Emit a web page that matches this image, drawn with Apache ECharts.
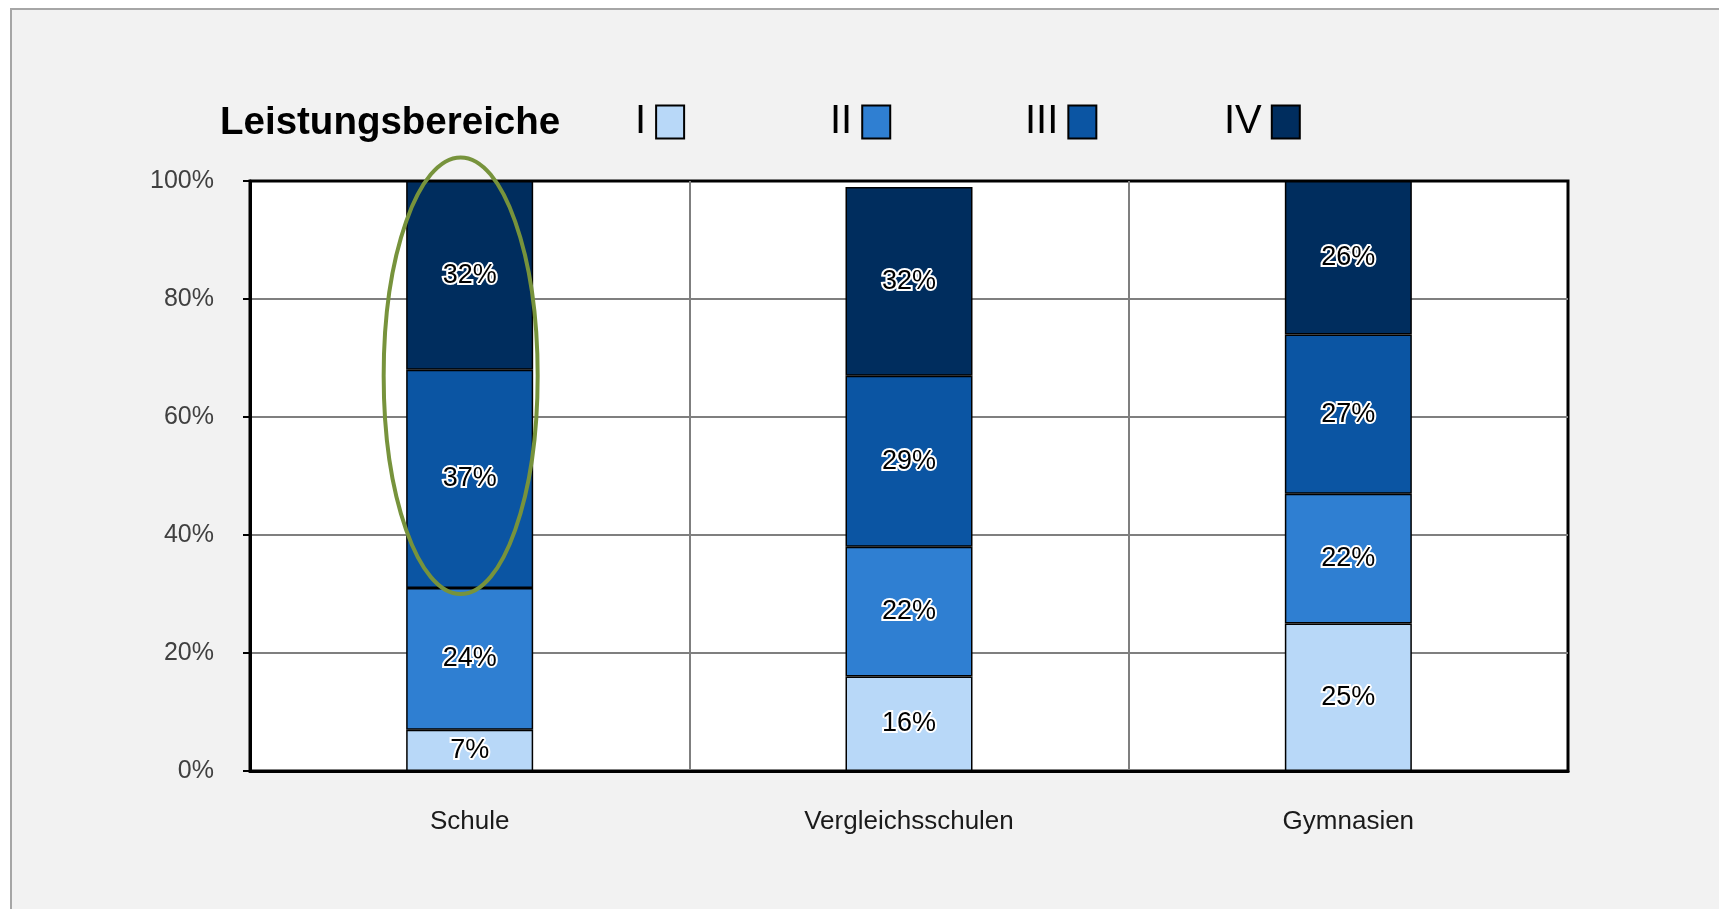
<!DOCTYPE html>
<html>
<head>
<meta charset="utf-8">
<script src="https://cdn.jsdelivr.net/npm/echarts@6/dist/echarts.min.js"></script>
<style>
html, body { margin: 0; padding: 0; background: #ffffff; }
#frame {
    position: absolute;
    left: 10px;
    top: 8px;
    width: 1720px;
    height: 920px;
    border-left: 2px solid #a6a6a6;
    border-top: 2px solid #a6a6a6;
    background: #f2f2f2;
}
#chart {
    position: absolute;
    left: 0;
    top: 0;
    width: 1719px;
    height: 909px;
}
</style>
</head>
<body>
<div id="frame"></div>
<div id="chart"></div>
<script>
// Leistungsbereiche I - IV, Anteile in Prozent
var categories = ['Schule', 'Vergleichsschulen', 'Gymnasien'];
var levelNames = ['I', 'II', 'III', 'IV'];
var levelI   = [7, 16, 25];
var levelII  = [24, 22, 22];
var levelIII = [37, 29, 27];
var levelIV  = [32, 32, 26];
var levelColors = ['#b8d8f8', '#2f7fd2', '#0b55a3', '#002d5e'];
var yTicks = [0, 20, 40, 60, 80, 100];

var font = '"Liberation Sans", Arial, sans-serif';

var levelData = [levelI, levelII, levelIII, levelIV];
var legendLeft = [630, 825, 1020, 1219];

var Chart = echarts.init(document.getElementById('chart'));

var seriesList = levelNames.map(function (name, i) {
    return {
        name: name,
        type: 'bar',
        stack: 'total',
        barWidth: 127,
        data: levelData[i],
        itemStyle: {
            color: levelColors[i],
            borderColor: '#000000',
            borderWidth: 1.5
        },
        label: {
            show: true,
            position: 'inside',
            formatter: '{c}%',
            color: '#000000',
            fontFamily: font,
            fontSize: 27,
            textBorderColor: '#ffffff',
            textBorderWidth: 4
        },
        emphasis: { disabled: true }
    };
});

var legendList = levelNames.map(function (name, i) {
    return {
        data: [name],
        left: legendLeft[i],
        top: 97,
        align: 'right',
        icon: 'rect',
        itemWidth: 28,
        itemHeight: 33,
        selectedMode: false,
        itemStyle: { borderColor: '#000000', borderWidth: 2 },
        textStyle: { fontFamily: font, fontSize: 40, color: '#000000', padding: [0, 5, 0, 0] }
    };
});

Chart.setOption({
    animation: false,
    title: {
        text: 'Leistungsbereiche',
        left: 215,
        top: 99,
        textStyle: { fontFamily: font, fontSize: 38.5, fontWeight: 'bold', color: '#000000' }
    },
    legend: legendList,
    grid: {
        left: 250,
        right: 151,
        top: 181,
        bottom: 138,
        show: true,
        backgroundColor: '#ffffff',
        borderColor: '#000000',
        borderWidth: 3
    },
    xAxis: {
        type: 'category',
        data: categories,
        axisLine: { lineStyle: { color: '#000000', width: 3 } },
        axisTick: { show: false },
        axisLabel: { fontFamily: font, fontSize: 26, color: '#1a1a1a', margin: 38 },
        splitLine: { show: true, showMinLine: false, showMaxLine: false, lineStyle: { color: '#7f7f7f', width: 2 } }
    },
    yAxis: {
        type: 'value',
        min: yTicks[0],
        max: yTicks[yTicks.length - 1],
        interval: yTicks[1] - yTicks[0],
        axisLine: { show: true, lineStyle: { color: '#000000', width: 3 } },
        axisTick: { show: true, length: 7, lineStyle: { color: '#000000', width: 2 } },
        axisLabel: { fontFamily: font, fontSize: 25, color: '#404040', margin: 36, formatter: '{value}%' },
        splitLine: { showMinLine: false, showMaxLine: false, lineStyle: { color: '#7f7f7f', width: 2 } }
    },
    series: seriesList
});

// gruene Markierung um den Schulbalken
var centre = Chart.convertToPixel({ gridIndex: 0 }, [0, 67]);
var topPx = Chart.convertToPixel({ gridIndex: 0 }, [0, 104]);
Chart.setOption({
    graphic: [{
        type: 'ellipse',
        shape: { cx: centre[0] - 9, cy: centre[1], rx: 77, ry: centre[1] - topPx[1] },
        style: { fill: null, stroke: '#77933c', lineWidth: 4 },
        silent: true,
        z: 100
    }]
});
</script>
</body>
</html>
